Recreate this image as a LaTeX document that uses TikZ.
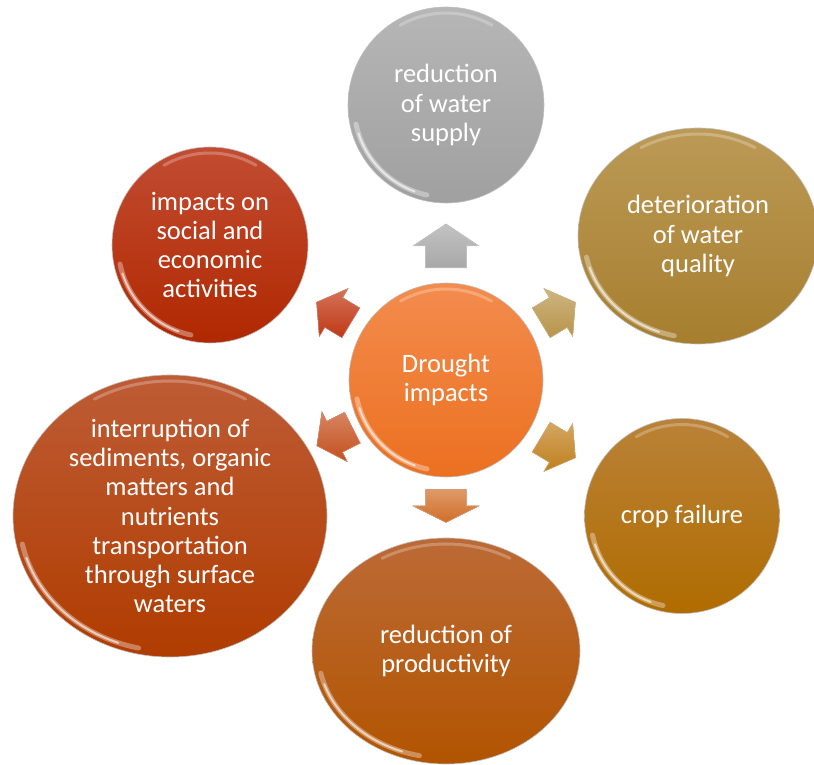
\documentclass[tikz,border=0pt]{standalone}
\usepackage{fontspec}
\setmainfont{Carlito}
\usetikzlibrary{calc,shapes.geometric}

\tikzset{
  bubble/.style={draw=gray!50, line width=.6pt, inner sep=0pt, outer sep=0pt},
  bubbletext/.style={text=white, align=center, inner sep=0pt, font=\fontsize{26.5}{29.3}\selectfont},
}
% glossy rim on a bubble: name, x radius, y radius
\newcommand\gloss[3]{%
  \pgfmathsetmacro\gx{#2-6}\pgfmathsetmacro\gy{#3-6}%
  \draw[white, opacity=.35, line width=5pt, line cap=round] ($(#1)+({\gx*cos(192)},{\gy*sin(192)})$) arc[start angle=192, end angle=258, x radius=\gx, y radius=\gy];
  \draw[white, opacity=.6, line width=2pt, line cap=round] ($(#1)+({\gx*cos(198)},{\gy*sin(198)})$) arc[start angle=198, end angle=250, x radius=\gx, y radius=\gy];
  \draw[white, opacity=.25, line width=3pt, line cap=round] ($(#1)+({\gx*cos(60)},{\gy*sin(60)})$) arc[start angle=60, end angle=120, x radius=\gx, y radius=\gy];}

\begin{document}
\begin{tikzpicture}[x=1pt, y=1pt]
\useasboundingbox (0,0) rectangle (814,765);
\definecolor{drtop}{RGB}{243,140,78}  \definecolor{drbot}{RGB}{236,112,32}
\definecolor{sutop}{RGB}{182,182,182} \definecolor{subot}{RGB}{160,160,160}
\definecolor{sotop}{RGB}{194,76,50}   \definecolor{sobot}{RGB}{176,40,0}
\definecolor{qutop}{RGB}{188,154,86}  \definecolor{qubot}{RGB}{166,126,46}
\definecolor{crtop}{RGB}{186,130,56}  \definecolor{crbot}{RGB}{176,108,0}
\definecolor{yitop}{RGB}{188,106,54}  \definecolor{yibot}{RGB}{178,84,0}
\definecolor{sitop}{RGB}{190,92,54}   \definecolor{sibot}{RGB}{176,60,0}
\definecolor{arrgray}{RGB}{168,168,168}
\definecolor{arrtan}{RGB}{184,148,74}
\definecolor{arrgold}{RGB}{192,128,30}
\definecolor{arrorange}{RGB}{208,110,40}
\definecolor{arrrust}{RGB}{196,80,30}
\definecolor{arrred}{RGB}{192,56,20}

% bubbles
\node[bubble, circle, minimum size=194, top color=drtop, bottom color=drbot] (drought) at (446,385) {};
\node[bubble, circle, minimum size=196, top color=sutop, bottom color=subot] (supply) at (446,660) {};
\node[bubble, circle, minimum size=196, top color=sotop, bottom color=sobot] (social) at (210,520) {};
\node[bubble, ellipse, minimum width=240, minimum height=216, top color=qutop, bottom color=qubot] (quality) at (698,529) {};
\node[bubble, circle, minimum size=195, top color=crtop, bottom color=crbot] (crop) at (682,249) {};
\node[bubble, ellipse, minimum width=268, minimum height=226, top color=yitop, bottom color=yibot] (yield) at (446,114) {};
\node[bubble, ellipse, minimum width=314, minimum height=282, top color=sitop, bottom color=sibot] (silt) at (170,249) {};

\gloss{drought}{97}{97}
\gloss{supply}{98}{98}
\gloss{social}{98}{98}
\gloss{quality}{120}{108}
\gloss{crop}{97.5}{97.5}
\gloss{yield}{134}{113}
\gloss{silt}{157}{141}

% texts
\node[bubbletext] (droughttxt) at (drought) {Drought\\impacts};
\node[bubbletext] (supplytxt) at (supply) {reduction\\of water\\supply};
\node[bubbletext] (socialtxt) at (social) {impacts on\\social and\\economic\\activities};
\node[bubbletext] (qualitytxt) at (quality) {deterioration\\of water\\quality};
\node[bubbletext] (croptxt) at (crop) {crop failure};
\node[bubbletext] (yieldtxt) at (yield) {reduction of\\productivity};
\node[bubbletext] (silttxt) at (silt) {interruption of\\sediments, organic\\matters and\\nutrients\\transportation\\through surface\\waters};

% block arrows round the centre
\foreach \ang/\dist/\len/\wid/\col in {90/134/44/66/arrgray, 31/131/40/56/arrtan, -31/131/40/56/arrgold, -90/126/33/66/arrorange, -153/125/40/56/arrrust, 149/131/40/56/arrred}
{
  \pgfmathsetmacro\sw{0.62*\wid}
  \filldraw[draw=\col!60!white, line width=.5pt, top color=\col!70!white, bottom color=\col, shift={($(drought)+(\ang:\dist)$)}, rotate=\ang]
    (-\len/2,-\sw/2) -- (0,-\sw/2) -- (0,-\wid/2) -- (\len/2,0) -- (0,\wid/2) -- (0,\sw/2) -- (-\len/2,\sw/2) -- cycle;
}
\end{tikzpicture}
\end{document}
